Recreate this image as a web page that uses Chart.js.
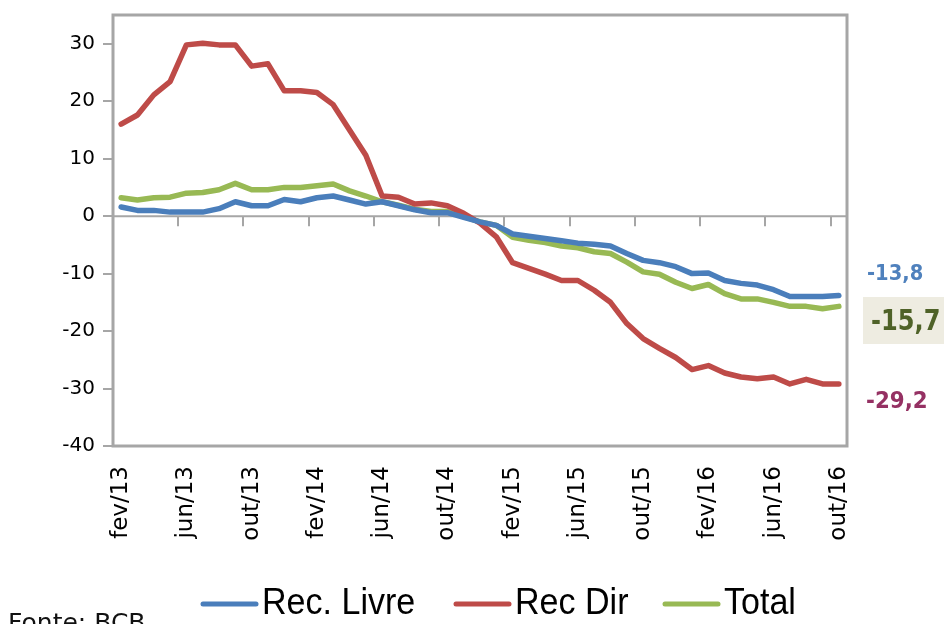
<!DOCTYPE html>
<html>
<head>
<meta charset="utf-8">
<script src="https://cdn.jsdelivr.net/npm/chart.js@4.4.1/dist/chart.umd.min.js"></script>
<style>
  html,body{margin:0;padding:0;background:#fff;}
  #wrap{width:944px;height:624px;}
</style>
</head>
<body>
<div id="wrap"><canvas id="c" width="944" height="624"></canvas></div>
<script>
// monthly, fev/13 .. out/16
const months = ['jan','fev','mar','abr','mai','jun','jul','ago','set','out','nov','dez'];
const labels = [];
for(let y=13; y<=16; y++){
  for(let m=0; m<12; m++){
    if(y===13 && m<1) continue;
    if(y===16 && m>9) continue;
    labels.push(months[m]+'/'+y);
  }
}

const recLivre = [1.6,1.0,1.0,0.7,0.7,0.7,1.3,2.5,1.8,1.8,2.9,2.5,3.2,3.5,2.8,2.1,2.5,1.8,1.1,0.6,
  0.6,-0.2,-1.0,-1.6,-3.1,-3.5,-3.9,-4.3,-4.7,-4.9,-5.2,-6.5,-7.7,-8.1,-8.8,-10.0,-9.9,-11.2,-11.7,-12.0,
  -12.8,-14.0,-14.0,-14.0,-13.8];
const recDir = [16.0,17.6,21.1,23.4,29.8,30.1,29.8,29.8,26.1,26.5,21.8,21.8,21.5,19.4,15.0,10.6,3.5,3.3,2.1,2.3,
  1.8,0.5,-1.2,-3.6,-8.1,-9.1,-10.1,-11.2,-11.2,-12.9,-15.0,-18.7,-21.3,-23.0,-24.6,-26.7,-26.0,-27.3,-28.0,-28.3,
  -28.0,-29.2,-28.4,-29.2,-29.2];
const total = [3.2,2.8,3.2,3.3,4.0,4.1,4.6,5.7,4.6,4.6,5.0,5.0,5.3,5.6,4.4,3.5,2.5,1.9,1.2,0.8,
  0.8,-0.1,-1.0,-1.6,-3.7,-4.2,-4.6,-5.2,-5.5,-6.2,-6.5,-8.0,-9.7,-10.1,-11.5,-12.6,-11.9,-13.5,-14.4,-14.4,
  -15.0,-15.7,-15.7,-16.1,-15.7];

const seriesNames = ['Rec. Livre','Rec Dir','Total'];
const seriesColors = ['#4a7ebb','#be4b48','#98b954'];

// end-of-series callouts
const endTexts = ['-13,8','-15,7','-29,2'];
const endColors = ['#4f81bd','#4f6228','#953163'];

const frameColor = '#a6a6a6';

// draw text squeezed horizontally
function squeezed(ctx, txt, x, y, sx){
  ctx.save();
  ctx.translate(x, y);
  ctx.scale(sx, 1);
  ctx.fillText(txt, 0, 0);
  ctx.restore();
}

const framePlugin = {
  id:'frame',
  beforeDatasetsDraw(chart){
    const {ctx, chartArea:a, scales:{x,y}} = chart;
    ctx.save();
    // zero line with category tick marks
    const y0 = y.getPixelForValue(0);
    ctx.strokeStyle = frameColor;
    ctx.lineWidth = 2;
    ctx.beginPath();
    ctx.moveTo(a.left, y0); ctx.lineTo(a.right, y0);
    const step = x.getPixelForValue(1) - x.getPixelForValue(0);
    for(let i=0; i<labels.length; i+=4){
      const px = Math.round(x.getPixelForValue(i) - step/2);
      ctx.moveTo(px, y0); ctx.lineTo(px, y0+10);
    }
    ctx.stroke();
    ctx.restore();
  },
  afterDraw(chart){
    const {ctx, chartArea:a} = chart;
    ctx.save();
    ctx.strokeStyle = frameColor;
    ctx.lineWidth = 3;
    ctx.strokeRect(a.left, a.top, a.right-a.left, a.bottom-a.top);

    // callouts on the right
    ctx.fillStyle = '#eeece1';
    ctx.fillRect(863, 297, 81, 47);
    ctx.textBaseline = 'middle';
    ctx.textAlign = 'left';
    ctx.font = 'bold 21px "DejaVu Sans"';
    ctx.fillStyle = endColors[0];
    squeezed(ctx, endTexts[0], 867, 275, 0.93);
    ctx.font = 'bold 29px "DejaVu Sans"';
    ctx.fillStyle = endColors[1];
    squeezed(ctx, endTexts[1], 871, 322, 0.83);
    ctx.font = 'bold 23px "DejaVu Sans"';
    ctx.fillStyle = endColors[2];
    squeezed(ctx, endTexts[2], 866, 402, 0.93);

    // legend
    const legX = [200, 453, 662];
    ctx.font = '37px "Liberation Sans"';
    chart.data.datasets.forEach((ds, i) => {
      ctx.strokeStyle = ds.borderColor;
      ctx.lineWidth = 5;
      ctx.lineCap = 'round';
      ctx.beginPath();
      ctx.moveTo(legX[i]+3, 604); ctx.lineTo(legX[i]+56, 604);
      ctx.stroke();
      ctx.fillStyle = '#000';
      squeezed(ctx, ds.label, legX[i]+62, 604, 0.92);
    });

    // source
    ctx.font = '25px "DejaVu Sans"';
    ctx.fillStyle = '#111';
    ctx.textBaseline = 'top';
    ctx.fillText('Fonte: BCB', 8, 612);
    ctx.restore();
  }
};

new Chart(document.getElementById('c'), {
  type:'line',
  data:{
    labels,
    datasets:[
      {label:seriesNames[0], data:recLivre, borderColor:seriesColors[0], backgroundColor:seriesColors[0]},
      {label:seriesNames[1], data:recDir, borderColor:seriesColors[1], backgroundColor:seriesColors[1]},
      {label:seriesNames[2], data:total, borderColor:seriesColors[2], backgroundColor:seriesColors[2]}
    ]
  },
  options:{
    responsive:false,
    animation:false,
    layout:{padding:{left:0, right:97, top:15, bottom:0}},
    elements:{
      line:{borderWidth:5.5, tension:0, borderJoinStyle:'round', borderCapStyle:'round'},
      point:{radius:0}
    },
    scales:{
      x:{
        offset:true,
        grid:{display:false},
        border:{display:false},
        afterFit(s){ s.height = 178; },
        ticks:{
          autoSkip:false, maxRotation:90, minRotation:90, padding:12,
          color:'#000', font:{family:'DejaVu Sans', size:23},
          callback(v, i){ return i%4===0 ? labels[i] : ''; }
        }
      },
      y:{
        min:-40, max:35,
        afterFit(s){ s.width = 113; s.paddingTop = 0; s.paddingBottom = 0; },
        border:{display:false},
        grid:{drawOnChartArea:false, tickLength:10, tickColor:frameColor, lineWidth:2},
        ticks:{stepSize:10, includeBounds:false, padding:8, color:'#000', font:{family:'DejaVu Sans', size:20}}
      }
    },
    plugins:{legend:{display:false}, tooltip:{enabled:false}}
  },
  plugins:[framePlugin]
});
</script>
</body>
</html>
